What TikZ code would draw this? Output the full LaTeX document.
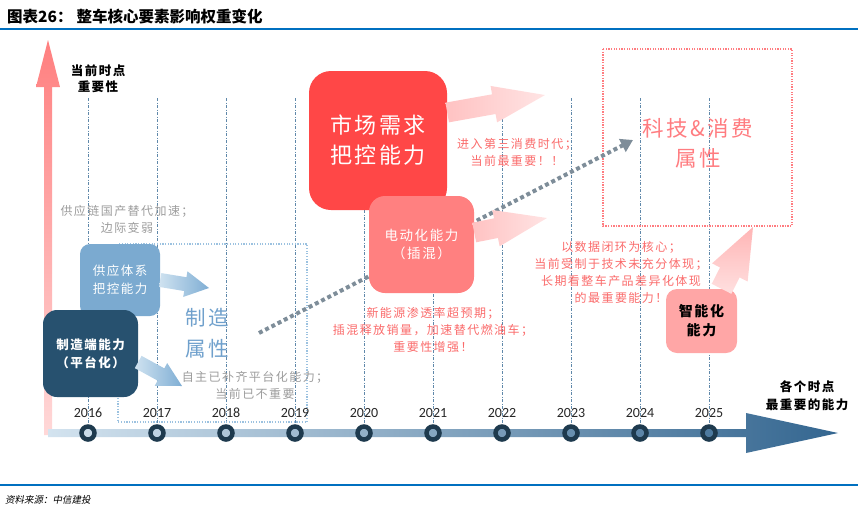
\documentclass[tikz,border=0pt]{standalone}
\usepackage{fontspec}
\newfontfamily\cjk{Noto Sans CJK SC}
\newfontfamily\cjksp[LetterSpace=12]{Noto Sans CJK SC}
\newfontfamily\yearfont{Carlito}
\usetikzlibrary{arrows.meta}
\usetikzlibrary{calc}

\definecolor{titleblue}{HTML}{0070C0}
\definecolor{gridblue}{HTML}{5F88AA}
\definecolor{axisL}{HTML}{D3E3EF}
\definecolor{axisR}{HTML}{346690}
\definecolor{ringdark}{HTML}{1E3A4E}
\definecolor{yeartext}{HTML}{262626}
\definecolor{vaxT}{HTML}{FF7F7F}
\definecolor{vaxB}{HTML}{FFD8D8}
\definecolor{mfgblue}{HTML}{27516F}
\definecolor{supblue}{HTML}{7BAAD0}
\definecolor{attrblue}{HTML}{6FA0CC}
\definecolor{rectblue}{HTML}{9CC2E0}
\definecolor{marketred}{HTML}{FF4747}
\definecolor{evred}{HTML}{FF8080}
\definecolor{smartpink}{HTML}{FFA6A6}
\definecolor{notered}{HTML}{FA6B6B}
\definecolor{notegray}{HTML}{9C9C9C}
\definecolor{attrpink}{HTML}{FF7C80}
\definecolor{dotgray}{HTML}{7E8D99}
\definecolor{arrowblueL}{HTML}{CFE2F0}
\definecolor{arrowblueR}{HTML}{7FAED4}
\definecolor{pinkarrowL}{HTML}{FFC2C2}
\definecolor{pinkarrowR}{HTML}{FFE4E4}
\definecolor{smartarrowB}{HTML}{FFE0E0}
\definecolor{smartarrowT}{HTML}{FFB5B5}

\tikzset{
  capbox/.style={rectangle, align=center, inner sep=0pt, text=white, font=\cjksp\fontsize{12.5}{18}\selectfont},
  gridline/.style={gridblue, line width=0.9pt, dash pattern=on 3pt off 1.6pt on 0.8pt off 1.6pt},
  notetext/.style={align=center, inner sep=0pt, font=\cjksp\fontsize{12}{17}\selectfont},
  bigtext/.style={align=center, inner sep=0pt},
}

% #1 shading, #2 tail, #3 tip, #4 half shaft, #5 half head, #6 head length
\newcommand{\blockarrow}[6]{%
  \coordinate (bh) at ($(#3)!#6!(#2)$);
  \shade[#1] ($(#2)!#4!90:(#3)$) -- ($(bh)!#4!90:(#3)$) -- ($(bh)!#5!90:(#3)$) -- (#3)
    -- ($(bh)!#5!-90:(#3)$) -- ($(bh)!#4!-90:(#3)$) -- ($(#2)!#4!-90:(#3)$) -- cycle;
}

\begin{document}
\begin{tikzpicture}[x=1pt, y=-1pt]
    \useasboundingbox (0,0) rectangle (858,517);

    \node[anchor=west, inner sep=0pt, font=\cjk\bfseries\fontsize{15.5}{18}\selectfont] (title) at (7,17) {图表26：\hspace{4pt}整车核心要素影响权重变化};
    \draw[titleblue, line width=1.3pt] (0,29) -- (858,29);
    \draw[titleblue, line width=1.3pt] (0,485) -- (858,485);
    \node[anchor=west, inner sep=0pt, font=\cjk\fontsize{9.5}{11}\selectfont] (source) at (5,500) {\addfontfeature{FakeSlant=0.2}资料来源：中信建投};

    % year grid and attribute regions
    \foreach \i in {0,...,9}
    \draw[gridline] ({88+69*\i},98) -- ({88+69*\i},427);

    \draw[rectblue, line width=1.2pt, dash pattern=on 1.2pt off 1.5pt] (118,244) rectangle (307,422);
    \draw[attrpink, line width=1.3pt, dash pattern=on 1.3pt off 1.3pt] (603,49) rectangle (792,226);

    % axes
    \shade[top color=vaxT, bottom color=vaxB] (44,435) -- (44,87) -- (36,87) -- (48,40) -- (60,87) -- (52,87) -- (52,435) -- cycle;
    \shade[left color=axisL, right color=axisR] (48,429) -- (746,429) -- (746,413) -- (838,433) -- (746,453) -- (746,437) -- (48,437) -- cycle;

    \foreach \yr [count=\i from 0] in {2016,...,2025} {
      \pgfmathtruncatemacro\pct{100-(40+69*\i)/7.9}
      \filldraw[draw=ringdark, line width=4.5pt, fill=axisL!\pct!axisR] ({88+69*\i},433) circle[radius=6.5pt];
      \node[font=\yearfont\fontsize{14}{16}\selectfont, text=yeartext] (y\yr) at ({88+69*\i},413) {\yr};
    }

    \node[bigtext, font=\cjksp\bfseries\fontsize{12.5}{16}\selectfont] (ylabel) at (98,79) {当前时点\\重要性};
    \node[bigtext, font=\cjksp\bfseries\fontsize{12.5}{18}\selectfont] (xlabel) at (807,396) {各个时点\\最重要的能力};

    % trend
    \coordinate (trendfrom) at (259,333);
    \coordinate (trendto) at (633,140);
    \draw[dotgray, line width=4pt, dash pattern=on 4pt off 3pt, -{Triangle[length=12pt,width=14pt]}] (trendfrom) -- (trendto);

    % capability boxes
    \node[capbox, fill=supblue, minimum width=80pt, minimum height=72pt, rounded corners=10pt] (supply) at (120,280) {供应体系\\把控能力};
    \node[capbox, fill=mfgblue, minimum width=95pt, minimum height=87pt, rounded corners=14pt, font=\cjksp\bfseries\fontsize{12.5}{18}\selectfont] (mfg) at (90.5,353.5) {制造端能力\\（平台化）};
    \node[capbox, fill=marketred, minimum width=138pt, minimum height=139pt, rounded corners=22pt, font=\cjksp\fontsize{22}{30}\selectfont] (market) at (378,140.5) {市场需求\\把控能力};
    \node[capbox, fill=evred, minimum width=105pt, minimum height=97pt, rounded corners=16pt, font=\cjksp\fontsize{13.5}{18}\selectfont] (ev) at (421.5,244.5) {电动化能力\\（插混）};
    \node[capbox, fill=smartpink, minimum width=71pt, minimum height=64pt, rounded corners=11pt, text=black, font=\cjksp\bfseries\fontsize{14}{19}\selectfont] (smart) at (701.5,321) {智能化\\能力};

    % block arrows out of the boxes
    \coordinate (suptip) at (209,288);
    \blockarrow{left color=arrowblueL, right color=arrowblueR}{supply.east}{suptip}{7pt}{13pt}{24pt}
    \coordinate (mfgtail) at ($(mfg.east)+(0,8.5)$);
    \coordinate (mfgtip) at (182,386);
    \blockarrow{left color=arrowblueL, right color=arrowblueR}{mfgtail}{mfgtip}{7pt}{13pt}{24pt}
    \coordinate (markettail) at ($(market.east)+(0,-28)$);
    \coordinate (markettip) at (545,95);
    \blockarrow{left color=pinkarrowL, right color=pinkarrowR}{markettail}{markettip}{10pt}{18.5pt}{52pt}
    \coordinate (evtail) at ($(ev.east)+(0,-12)$);
    \coordinate (evtip) at (547,218);
    \blockarrow{left color=pinkarrowL, right color=pinkarrowR}{evtail}{evtip}{10pt}{18.5pt}{52pt}
    \coordinate (smarttail) at ($(smart.north)+(20,0)$);
    \coordinate (smarttip) at (753,227);
    \blockarrow{bottom color=smartarrowB, top color=smartarrowT}{smarttail}{smarttip}{11pt}{20pt}{51pt}

    % notes
    \node[notetext, text=notegray] (chainnote) at (127,219.5) {供应链国产替代加速；\\边际变弱};
    \node[notetext, text=notegray] (platnote) at (255,385.5) {自主已补齐平台化能力；\\当前已不重要};
    \node[notetext, text=notered] (marketnote) at (517,152) {进入第三消费时代；\\当前最重要！！};
    \node[notetext, text=notered] (evnote) at (433,330) {新能源渗透率超预期；\\插混释放销量，加速替代燃油车；\\重要性增强！};
    \node[notetext, text=notered] (smartnote) at (621,272.5) {以数据闭环为核心；\\当前受制于技术未充分体现；\\长期看整车产品差异化体现\\的最重要能力！};

    \node[bigtext, text=attrblue, font=\cjksp\fontsize{20.5}{31}\selectfont] (mfgattr) at (207,333.5) {制造\\属性};
    \node[bigtext, text=attrpink, font=\cjksp\fontsize{21.5}{30}\selectfont] (techattr) at (698,143) {科技\&消费\\属性};

\end{tikzpicture}
\end{document}
